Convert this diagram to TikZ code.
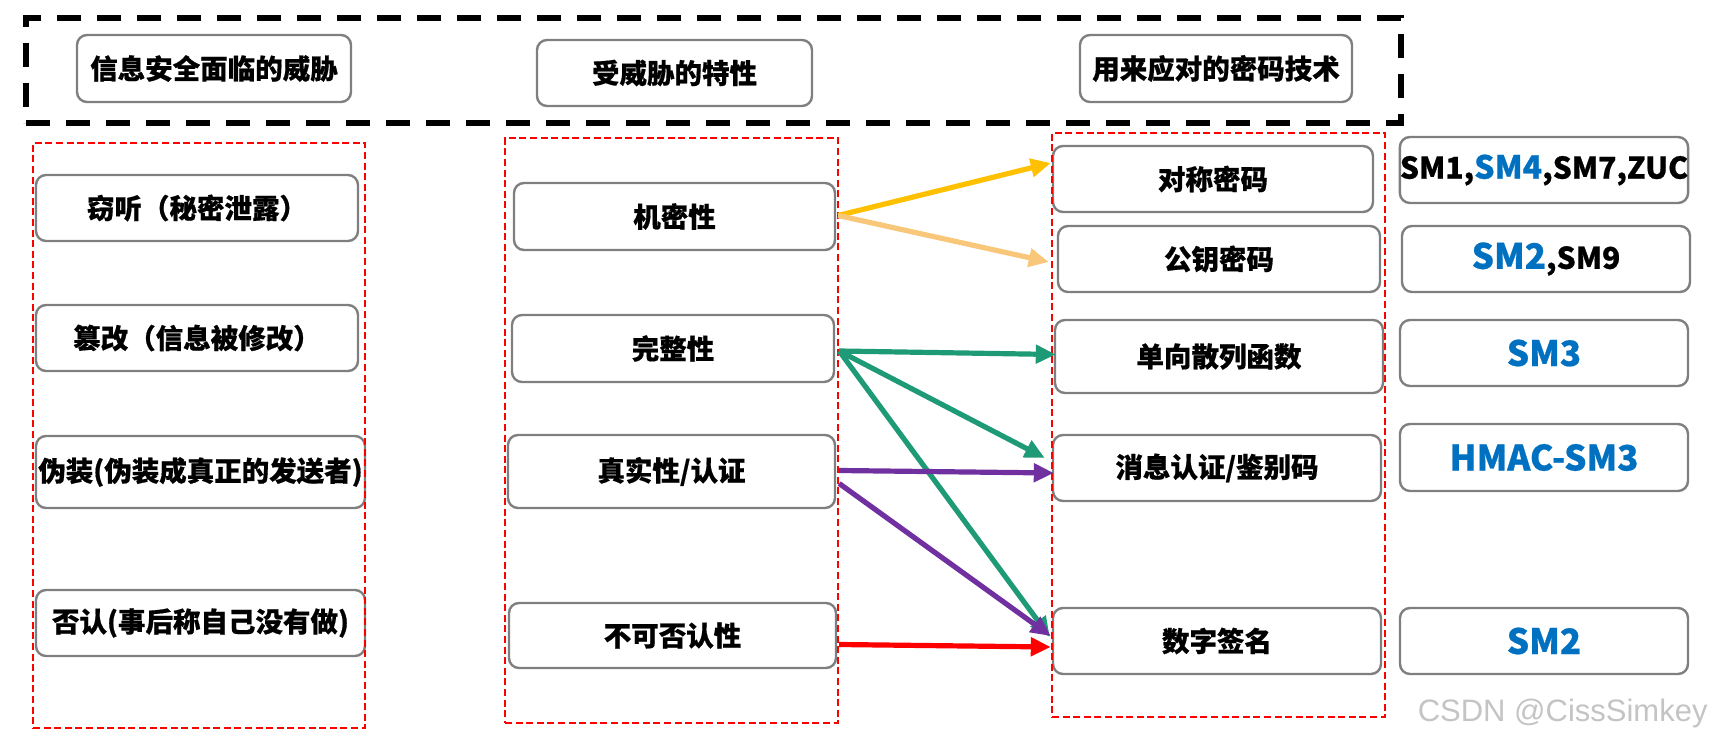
\documentclass[tikz,border=0pt]{standalone}
\usepackage{fontspec}
\setmainfont{Noto Sans CJK SC}[BoldFeatures={FakeBold=0.6}]
\newfontfamily\wmfont{Liberation Sans}
\usetikzlibrary{arrows.meta,fit}
\definecolor{boxgray}{HTML}{7F7F7F}
\definecolor{smblue}{HTML}{0070C0}
\definecolor{cyellow}{HTML}{FFC000}
\definecolor{corange}{HTML}{F8C77A}
\definecolor{cgreen}{HTML}{1E9A77}
\definecolor{cpurple}{HTML}{7030A0}
\definecolor{cred}{HTML}{FF0000}
\definecolor{wmgray}{HTML}{C4C4C4}
\begin{document}
\begin{tikzpicture}[x=0.5pt,y=-0.5pt,
  box/.style={draw=boxgray, line width=1.2pt, rounded corners=5pt, inner sep=0pt,
    minimum height=33pt, font=\fontsize{13.75}{16}\selectfont\bfseries, align=center},
  smbox/.style={box, minimum width=144pt, font=\fontsize{15}{18}\selectfont\bfseries},
  bigsm/.style={smbox, text=smblue, font=\fontsize{17.5}{20}\selectfont\bfseries},
  reddash/.style={draw=cred, line width=1.4pt, dash pattern=on 3.5pt off 1.8pt, inner sep=0pt},
  blackdash/.style={draw=black, line width=2.6pt, dash pattern=on 12pt off 8pt, inner sep=0pt},
  conn/.style={line width=2.6pt, -{Triangle[length=10pt,width=9pt]}},
]
\useasboundingbox (0,0) rectangle (1714,744);

% top dashed frame and headers
\node[blackdash, fit={(26,18)(1401,123)}] (top) {};
\node[box, minimum width=137pt, minimum height=33.5pt] (h1) at (214,68.5) {信息安全面临的威胁};
\node[box, minimum width=137.5pt] (h2) at (674.5,73) {受威胁的特性};
\node[box, minimum width=136pt, minimum height=33.5pt] (h3) at (1216,68.5) {用来应对的密码技术};

% left column
\node[box, minimum width=161pt] (l1) at (197,208) {窃听（秘密泄露）};
\node[box, minimum width=161pt] (l2) at (197,338) {篡改（信息被修改）};
\node[box, minimum width=164.5pt, minimum height=36pt] (l3) at (200.5,472) {伪装(伪装成真正的发送者)};
\node[box, minimum width=164.5pt] (l4) at (200.5,623) {否认(事后称自己没有做)};

% middle column
\node[box, minimum width=160.5pt, minimum height=33.5pt] (m1) at (674.5,216.5) {机密性};
\node[box, minimum width=161pt, minimum height=33.5pt] (m2) at (673,348.5) {完整性};
\node[box, minimum width=163.5pt, minimum height=36.5pt] (m3) at (671.5,471.5) {真实性/认证};
\node[box, minimum width=163.5pt, minimum height=32.5pt] (m4) at (672.5,635.5) {不可否认性};

% right column
\node[box, minimum width=160pt] (r1) at (1213,179) {对称密码};
\node[box, minimum width=161pt] (r2) at (1219,259) {公钥密码};
\node[box, minimum width=164pt, minimum height=36.5pt] (r3) at (1219,356.5) {单向散列函数};
\node[box, minimum width=164pt] (r4) at (1217,468) {消息认证/鉴别码};
\node[box, minimum width=164pt] (r5) at (1217,641) {数字签名};

% algorithm boxes
\node[smbox] (s1) at (1544,170) {SM1,{\fontsize{16}{18}\selectfont\textcolor{smblue}{SM4}},SM7,ZUC};
\node[smbox] (s2) at (1546,259) {{\fontsize{17.5}{20}\selectfont\textcolor{smblue}{SM2}},SM9};
\node[bigsm] (s3) at (1544,353) {SM3};
\node[bigsm, minimum height=33.5pt] (s4) at (1544,457.5) {HMAC-SM3};
\node[bigsm] (s5) at (1544,641) {SM2};

% red dashed groups
\node[reddash, fit={(33,143)(365,728)}] (g1) {};
\node[reddash, fit={(505,138)(838,723)}] (g2) {};
\node[reddash, fit={(1052,133)(1385,717)}] (g3) {};

% connectors
\draw[conn, draw=cyellow, fill=cyellow] ([shift={(2,-1)}]m1.east) -- ([shift={(-1,-16)}]r1.west);
\draw[conn, draw=corange, fill=corange] ([shift={(2,-1)}]m1.east) -- ([shift={(-8,3)}]r2.west);
\draw[conn, draw=cgreen, fill=cgreen] ([shift={(4,2.5)}]m2.east) -- ([shift={(2,-2)}]r3.west);
\draw[conn, draw=cgreen, fill=cgreen] ([shift={(4,2.5)}]m2.east) -- ([shift={(-7,-10)}]r4.west);
\draw[conn, draw=cgreen, fill=cgreen] ([shift={(4,2.5)}]m2.east) -- ([shift={(-2,-4)}]r5.west);
\draw[conn, draw=cpurple, fill=cpurple] ([shift={(3,-1)}]m3.east) -- ([shift={(2,5)}]r4.west);
\draw[conn, draw=cpurple, fill=cpurple] ([shift={(3,12)}]m3.east) -- ([shift={(-1,-5)}]r5.west);
\draw[conn, draw=cred, fill=cred] ([shift={(2,9)}]m4.east) -- ([shift={(-1,6)}]r5.west);

% watermark
\node[font=\wmfont\fontsize{15.5}{18}\selectfont, text=wmgray, anchor=east, inner sep=0pt] (wm) at (1708,713) {CSDN @CissSimkey};
\end{tikzpicture}
\end{document}
